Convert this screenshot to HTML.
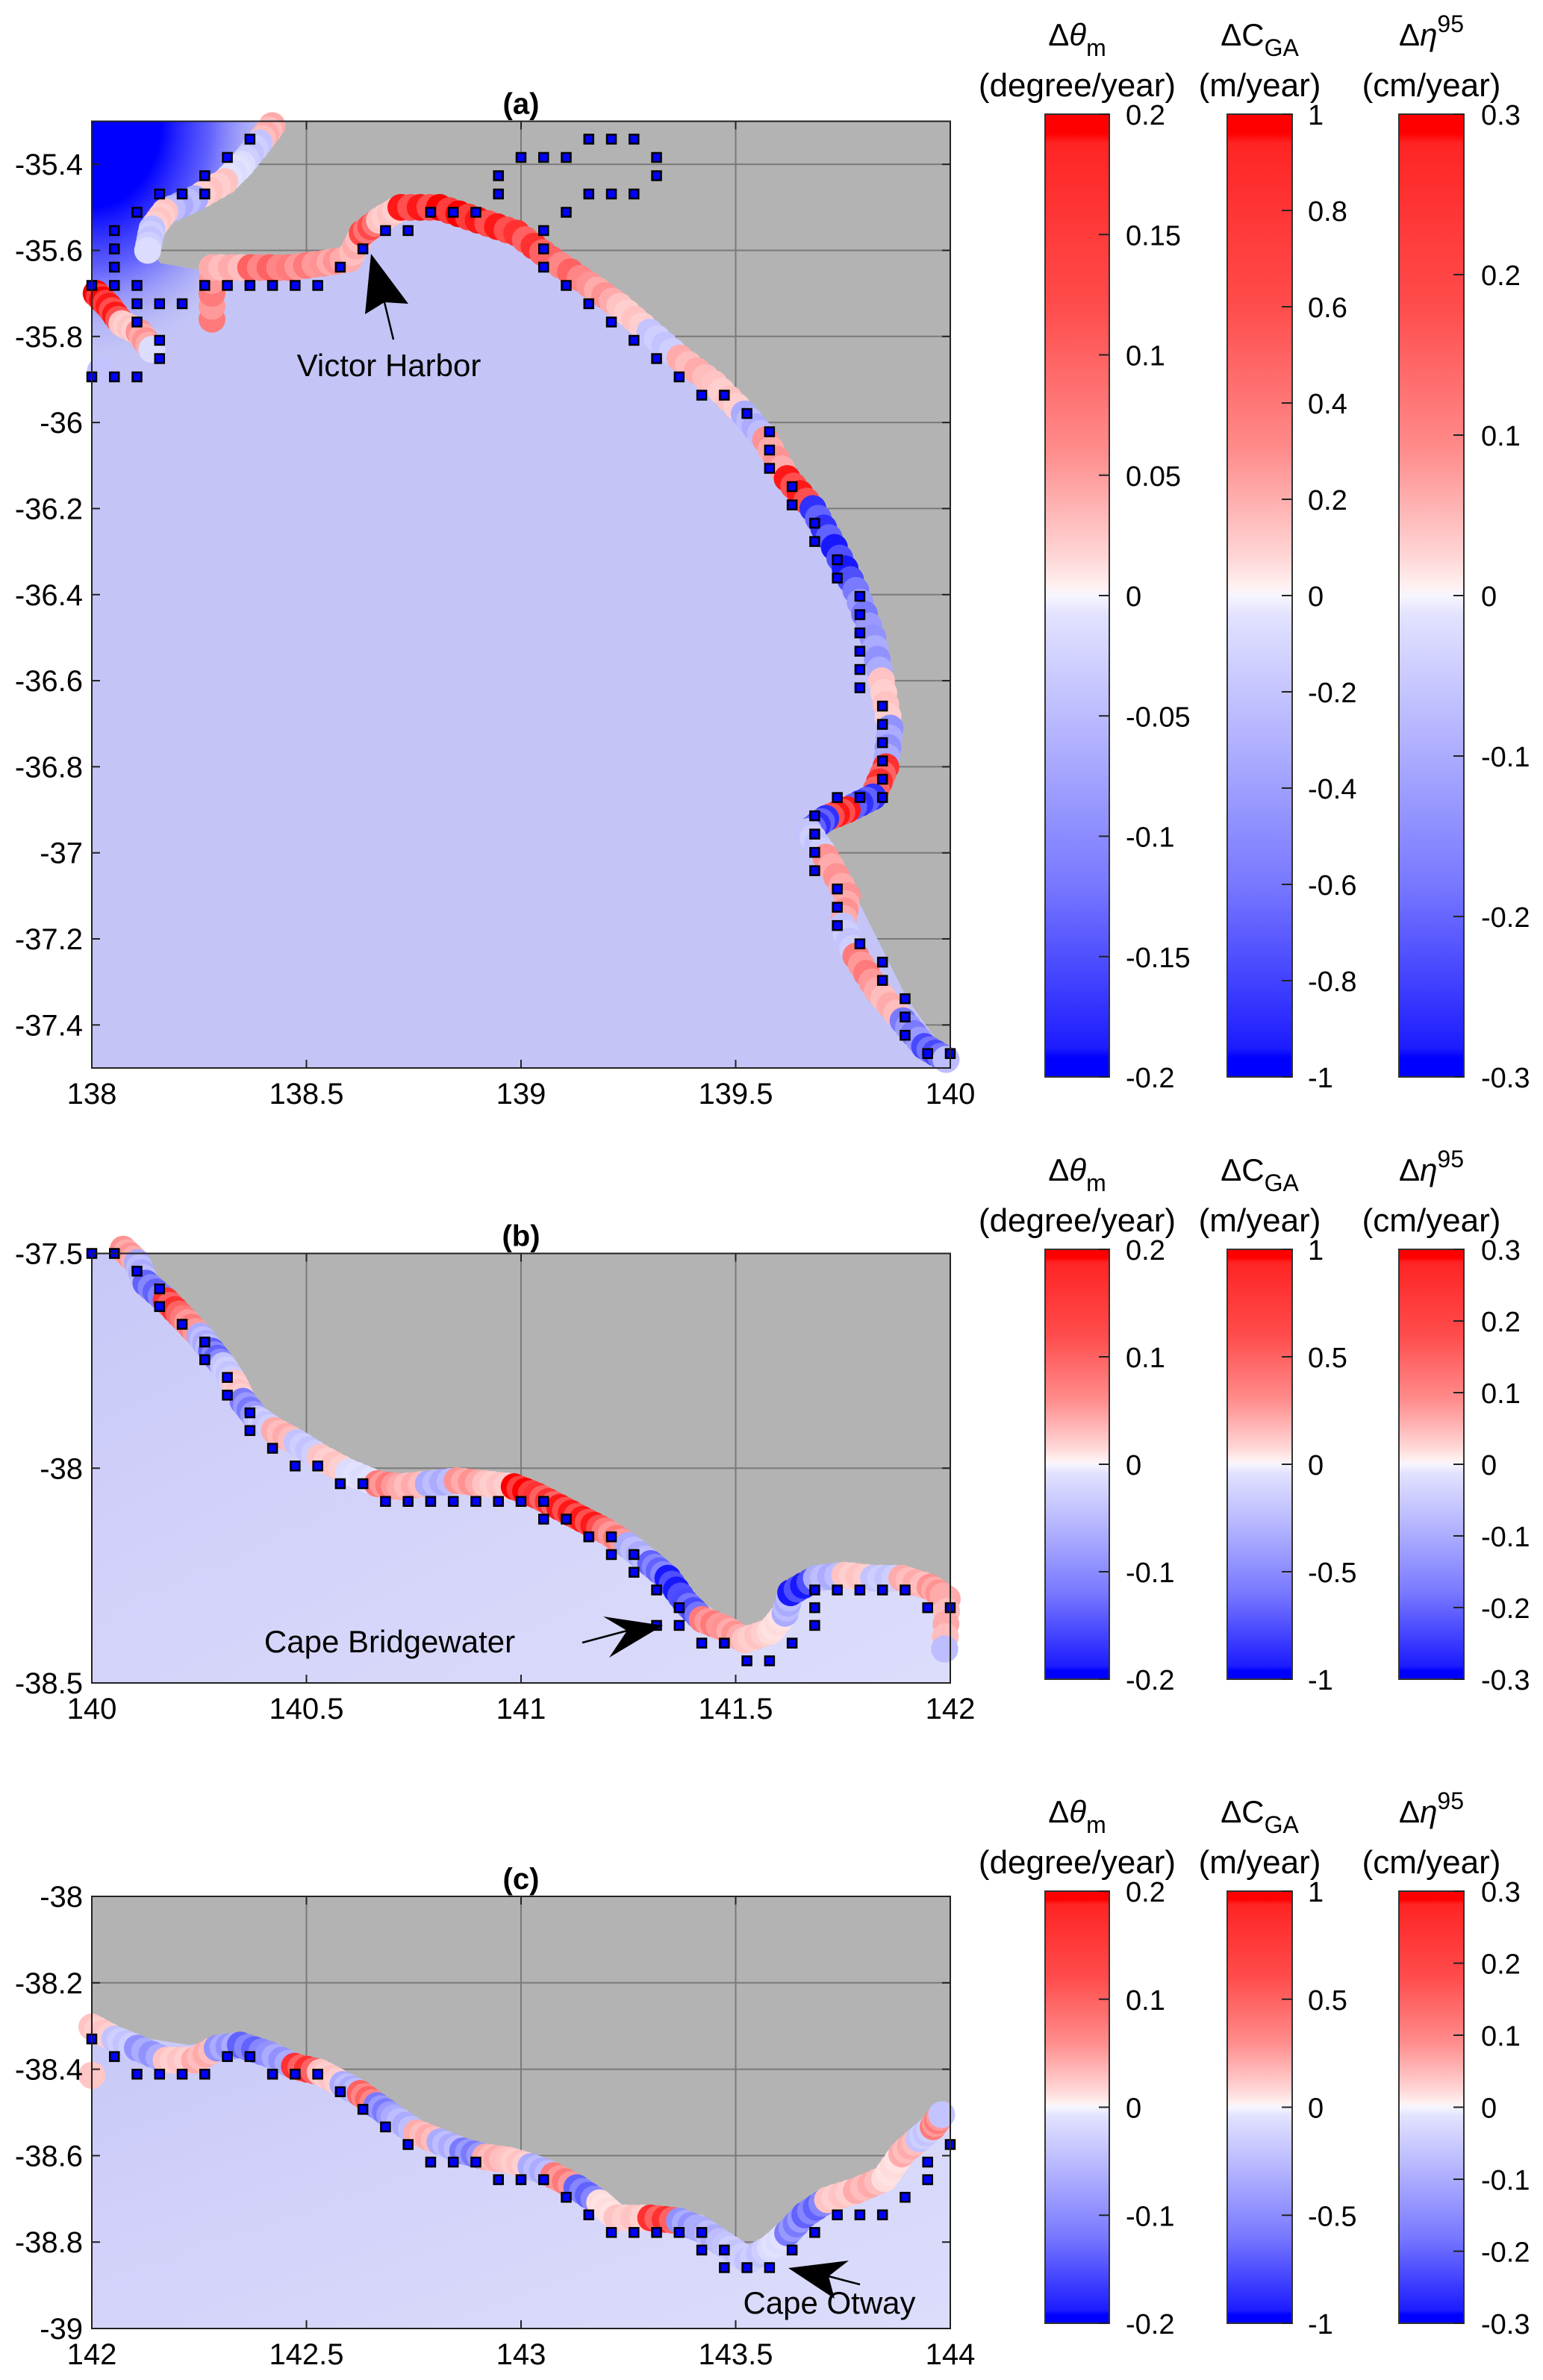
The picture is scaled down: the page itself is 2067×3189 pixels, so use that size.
<!DOCTYPE html>
<html><head><meta charset="utf-8"><style>
html,body{margin:0;padding:0;background:#fff}
svg{display:block}
text{font-family:"Liberation Sans",Arial,sans-serif;fill:#000}
</style></head><body>
<svg id="fig" xmlns="http://www.w3.org/2000/svg" width="2067" height="3189" viewBox="0 0 2067 3189">
<defs>
<linearGradient id="cbgrad" x1="0" y1="0" x2="0" y2="1">
<stop offset="0" stop-color="#ff0000"/><stop offset="0.02" stop-color="#ff0000"/><stop offset="0.03" stop-color="#ff2424"/>
<stop offset="0.2" stop-color="#ff4c4c"/><stop offset="0.35" stop-color="#ff8c8c"/><stop offset="0.46" stop-color="#ffd6d6"/>
<stop offset="0.49" stop-color="#fff0f0"/><stop offset="0.5" stop-color="#f6f6ff"/><stop offset="0.52" stop-color="#e2e2ff"/>
<stop offset="0.65" stop-color="#b2b2ff"/><stop offset="0.8" stop-color="#7878ff"/><stop offset="0.97" stop-color="#1c1cff"/>
<stop offset="0.98" stop-color="#0000ff"/><stop offset="1" stop-color="#0000ff"/>
</linearGradient>
<radialGradient id="gulfgrad" cx="123" cy="162" r="330" gradientUnits="userSpaceOnUse" gradientTransform="translate(123 162) scale(0.8 1) translate(-123 -162)">
<stop offset="0" stop-color="#0000ff" stop-opacity="1"/><stop offset="0.35" stop-color="#0000ff" stop-opacity="1"/>
<stop offset="0.6" stop-color="#4848ff" stop-opacity="0.8"/><stop offset="1" stop-color="#c8c8f8" stop-opacity="0"/>
</radialGradient>
<linearGradient id="oceanB" x1="0" y1="0" x2="1" y2="1">
<stop offset="0" stop-color="#c8c8f8"/><stop offset="0.6" stop-color="#d6d6fa"/><stop offset="1" stop-color="#dcdcfb"/>
</linearGradient>
</defs>
</svg>
<script>
// ---------- DATA ----------
const coastALon=[138.44,138.40,138.31,138.17,138.12,138.16,138.28,138.60,138.65,138.72,138.95,139.20,139.55,139.76,139.87,139.87,139.80,139.66,139.76,139.90,140.00];
const coastALat=[-35.30,-35.35,-35.45,-35.51,-35.58,-35.63,-35.65,-35.64,-35.55,-35.50,-35.55,-35.70,-36.00,-36.36,-36.64,-36.78,-36.87,-36.94,-37.06,-37.34,-37.48];
const markALon=[138.42,138.39,138.35,138.31,138.24,138.17,138.14,138.13,138.01,138.04,138.07,138.11,138.14,138.02,138.28,
138.28,138.37,138.46,138.54,138.60,138.63,138.67,138.72,138.81,138.90,138.99,139.07,139.16,139.23,139.30,139.37,139.45,139.52,139.57,139.62,139.68,139.73,139.78,139.82,139.84,139.86,139.85,139.82,139.76,139.71,139.67,139.71,139.76,139.75,139.78,139.83,139.89,139.94,139.99];
const markALat=[-35.31,-35.35,-35.40,-35.44,-35.48,-35.51,-35.55,-35.60,-35.70,-35.73,-35.77,-35.79,-35.83,-35.88,-35.76,
-35.64,-35.64,-35.64,-35.63,-35.62,-35.56,-35.53,-35.50,-35.50,-35.53,-35.56,-35.62,-35.68,-35.73,-35.79,-35.85,-35.91,-35.98,-36.04,-36.13,-36.20,-36.29,-36.39,-36.50,-36.60,-36.71,-36.80,-36.87,-36.90,-36.92,-36.95,-37.01,-37.10,-37.17,-37.24,-37.32,-37.39,-37.45,-37.48];
const markAVal=[0.3,-0.2,-0.1,0.2,-0.3,0.2,-0.2,-0.1,1,0.9,0.2,0.4,-0.1,-0.2,0.5,
0.3,0.6,0.5,0.4,0.3,0.7,0.2,0.9,1,0.9,0.8,0.6,0.4,0.2,-0.2,0.3,0.2,-0.3,0.4,0.9,-0.8,-0.9,-0.5,-0.4,0.2,-0.4,0.8,-0.8,0.9,-0.8,-0.2,0.4,0.4,-0.2,0.5,0.3,-0.5,-0.7,-0.3];
const sqAI=[7,6,5,5,3,4,2,1,1,1,0,1,2,2,3,4,2,3,3,0,1,2,5,6,7,8,9,10,11,12,13,14,15,16,17,18,18,19,20,21,22,23,24,25,25,24,23,22,21,20,20,20,21,22,23,24,25,26,27,28,29,30,30,30,31,31,32,32,33,33,34,34,34,34,34,34,35,35,35,35,35,35,34,33,32,32,32,32,33,33,33,34,35,35,36,36,36,37,38];
const sqAJ=[0,1,2,3,3,3,4,5,6,7,8,8,8,9,9,9,10,11,12,13,13,13,8,8,8,8,8,8,7,6,5,5,4,4,4,2,3,1,1,1,0,0,0,1,2,3,3,3,4,5,6,7,8,9,10,11,12,13,14,14,15,16,17,18,19,20,21,22,23,24,25,26,27,28,29,30,31,32,33,34,35,36,36,36,37,38,39,40,41,42,43,44,45,46,47,48,49,50,50];

const coastBLon=[140.040,140.120,140.159,140.226,140.292,140.346,140.385,140.465,140.545,140.625,140.704,140.824,140.970,141.063,141.183,141.289,141.369,141.422,141.502,141.542,141.575,141.635,141.741,141.887,142.000];
const coastBLat=[-37.500,-37.507,-37.562,-37.631,-37.720,-37.802,-37.871,-37.919,-37.974,-38.009,-38.019,-38.019,-38.029,-38.050,-38.105,-38.174,-38.242,-38.311,-38.366,-38.393,-38.345,-38.270,-38.235,-38.242,-38.277];
const markBLon=[140.073,140.106,140.126,140.173,140.213,140.252,140.279,140.306,140.332,140.352,140.385,140.425,140.478,140.532,140.598,140.665,140.718,140.784,140.851,140.917,140.984,141.037,141.090,141.143,141.196,141.249,141.302,141.342,141.382,141.422,141.475,141.521,141.581,141.615,141.628,141.688,141.754,141.821,141.887,141.953,141.993,141.987];
const markBLat=[-37.490,-37.521,-37.569,-37.610,-37.651,-37.692,-37.727,-37.761,-37.802,-37.844,-37.885,-37.912,-37.940,-37.974,-38.009,-38.036,-38.043,-38.036,-38.029,-38.036,-38.043,-38.064,-38.091,-38.119,-38.146,-38.180,-38.222,-38.256,-38.311,-38.352,-38.373,-38.400,-38.380,-38.338,-38.290,-38.256,-38.249,-38.256,-38.256,-38.277,-38.304,-38.421];
const markBVal=[0.4,-0.3,-0.6,0.8,0.5,-0.3,-0.6,-0.2,0.2,-0.5,-0.2,0.3,-0.2,0.2,-0.1,0.5,0.3,-0.3,0.4,0.2,1,0.8,0.9,0.9,0.5,-0.3,-0.6,-0.9,-0.7,0.5,0.4,0.2,0.1,-0.3,-0.9,-0.3,0.2,-0.2,0.3,0.4,0.3,-0.3];
const sqBI=[0,1,2,3,3,4,5,5,6,6,7,7,8,9,10,11,12,13,14,15,16,17,18,19,20,20,21,22,23,23,24,24,25,26,26,25,27,28,29,30,31,32,32,32,33,34,35,36,37,38];
const sqBJ=[0,0,1,2,3,4,5,6,7,8,9,10,11,12,12,13,13,14,14,14,14,14,14,14,14,15,15,16,16,17,17,18,19,20,21,21,22,22,23,23,22,21,20,19,19,19,19,19,20,20];

const coastCLon=[142.000,142.093,142.226,142.332,142.425,142.518,142.625,142.704,142.784,142.890,143.023,143.130,143.209,143.316,143.422,143.488,143.528,143.581,143.661,143.767,143.887,143.953,144.000];
const coastCLat=[-38.281,-38.323,-38.344,-38.330,-38.351,-38.386,-38.435,-38.491,-38.540,-38.582,-38.596,-38.667,-38.723,-38.723,-38.737,-38.786,-38.814,-38.793,-38.716,-38.674,-38.618,-38.540,-38.484];
const markCLon=[142.000,142.053,142.106,142.173,142.239,142.292,142.346,142.412,142.472,142.532,142.585,142.625,142.664,142.704,142.757,142.811,142.864,142.917,142.970,143.023,143.076,143.130,143.183,143.223,143.302,143.369,143.422,143.475,143.528,143.581,143.621,143.661,143.714,143.781,143.847,143.887,143.927,143.960,143.980,142.000];
const markCLat=[-38.302,-38.330,-38.351,-38.379,-38.379,-38.351,-38.344,-38.365,-38.393,-38.407,-38.435,-38.456,-38.484,-38.512,-38.547,-38.568,-38.589,-38.603,-38.610,-38.625,-38.646,-38.674,-38.709,-38.744,-38.744,-38.751,-38.772,-38.807,-38.842,-38.814,-38.779,-38.737,-38.702,-38.681,-38.653,-38.596,-38.561,-38.533,-38.505,-38.414];
const markCVal=[0.2,-0.2,-0.4,0.2,0.3,-0.4,-0.6,-0.4,0.8,0.2,-0.3,0.6,-0.5,-0.3,0.3,-0.3,-0.5,0.3,0.2,-0.3,0.5,-0.6,0.1,0.2,0.8,-0.4,-0.3,-0.2,-0.2,-0.1,-0.5,-0.6,0.2,0.3,0.1,0.3,-0.2,0.5,-0.2,0.25];
const sqCI=[0,1,2,3,4,5,6,7,8,9,10,11,12,13,14,15,16,17,18,19,20,21,22,23,24,25,26,27,27,28,28,29,30,31,32,33,34,35,36,37,37,38];
const sqCJ=[0,1,2,2,2,2,1,1,2,2,2,3,4,5,6,7,7,7,8,8,8,9,10,11,11,11,11,11,12,12,13,13,13,12,11,10,10,10,9,8,7,6];

const xTicksA=[138,138.5,139,139.5,140], xLabA=["138","138.5","139","139.5","140"];
const yTicksA=[-35.4,-35.6,-35.8,-36,-36.2,-36.4,-36.6,-36.8,-37,-37.2,-37.4];
const yLabA=["-35.4","-35.6","-35.8","-36","-36.2","-36.4","-36.6","-36.8","-37","-37.2","-37.4"];
const xTicksB=[140,140.5,141,141.5,142], xLabB=["140","140.5","141","141.5","142"];
const yTicksB=[-37.5,-38,-38.5], yLabB=["-37.5","-38","-38.5"];
const xTicksC=[142,142.5,143,143.5,144], xLabC=["142","142.5","143","143.5","144"];
const yTicksC=[-38,-38.2,-38.4,-38.6,-38.8,-39], yLabC=["-38","-38.2","-38.4","-38.6","-38.8","-39"];
const cb1TicksA=[0.2,0.15,0.1,0.05,0,-0.05,-0.1,-0.15,-0.2], cb1LabA=["0.2","0.15","0.1","0.05","0","-0.05","-0.1","-0.15","-0.2"];
const cb2TicksA=[1,0.8,0.6,0.4,0.2,0,-0.2,-0.4,-0.6,-0.8,-1], cb2LabA=["1","0.8","0.6","0.4","0.2","0","-0.2","-0.4","-0.6","-0.8","-1"];
const cb3Ticks=[0.3,0.2,0.1,0,-0.1,-0.2,-0.3], cb3Lab=["0.3","0.2","0.1","0","-0.1","-0.2","-0.3"];
const cb1TicksB=[0.2,0.1,0,-0.1,-0.2], cb1LabB=["0.2","0.1","0","-0.1","-0.2"];
const cb2TicksB=[1,0.5,0,-0.5,-1], cb2LabB=["1","0.5","0","-0.5","-1"];

// ---------- RENDER ----------
const NS="http://www.w3.org/2000/svg";
const svg=document.getElementById('fig');
function mk(tag,attrs,parent){const e=document.createElementNS(NS,tag);for(const k in attrs)e.setAttribute(k,attrs[k]);(parent||svg).appendChild(e);return e;}
function col(v){const t=Math.min(1,Math.abs(v));const c=Math.round(244*(1-t));return v>=0?`rgb(255,${c},${c})`:`rgb(${c},${c},255)`;}

function panel(P){
  const g=mk('g',{});
  
  
  const sx=lon=>P.x0+(lon-P.lon0)/(P.lon1-P.lon0)*(P.x1-P.x0);
  const sy=lat=>P.y0+(P.lat0-lat)/(P.lat0-P.lat1)*(P.y1-P.y0);
  const land=mk('rect',{x:P.x0,y:P.y0,width:P.x1-P.x0,height:P.y1-P.y0,fill:'#b3b3b3'},g);
  
  
  P.xt.forEach(v=>{const l=mk('line',{x1:sx(v),x2:sx(v),y1:P.y0,y2:P.y1,stroke:'#7a7a7a','stroke-width':2},g);});
  P.yt.forEach(v=>{const l=mk('line',{x1:P.x0,x2:P.x1,y1:sy(v),y2:sy(v),stroke:'#7a7a7a','stroke-width':2},g);});
  let pts=[];
  if(P.oceanStart) pts.push([P.x0,P.y0]);
  else pts.push([P.x0,sy(P.cLat[0])]);
  for(let i=0;i<P.cLon.length;i++) pts.push([sx(P.cLon[i]),sy(P.cLat[i])]);
  pts.push([P.x1,P.y1]);pts.push([P.x0,P.y1]);
  const ocean=mk('polygon',{points:pts.map(p=>p.join(',')).join(' '),fill:P.oceanFill},g);
  
  
  if(P.gulf){
    const cp=mk('clipPath',{id:'gulfclip'},g);
    mk('polygon',{points:pts.map(p=>p.join(',')).join(' ')},cp);
    const gr=mk('rect',{x:P.x0,y:P.y0,width:420,height:460,fill:'url(#gulfgrad)','clip-path':'url(#gulfclip)'},g);
    
    
  }
  const mg=mk('g',{},g);
  
  
  for(let i=0;i<P.mLon.length;i++){
    const x=sx(P.mLon[i]),y=sy(P.mLat[i]);
    let nx=x,ny=y;
    if(i+1<P.mLon.length){nx=sx(P.mLon[i+1]);ny=sy(P.mLat[i+1]);}
    const d=Math.hypot(nx-x,ny-y);
    const steps=(d<70)?4:1;
    for(let s=0;s<steps;s++){
      const f=s/steps;
      const c=mk('circle',{cx:x+(nx-x)*f,cy:y+(ny-y)*f,r:P.r,fill:col(P.mVal[i]*(s%2?0.75:1))},mg);
      
      
    }
  }
  P.sqI.forEach((ii,k)=>{
    const lon=P.gLon0+ii*P.gdLon, lat=P.gLat0-P.sqJ[k]*P.gdLat;
    const s=mk('rect',{x:sx(lon)-6,y:sy(lat)-6,width:12,height:12,fill:'#0000ff',stroke:'#000','stroke-width':2.5},g);
    
    
  });
  const fr=mk('rect',{x:P.x0,y:P.y0,width:P.x1-P.x0,height:P.y1-P.y0,fill:'none',stroke:'#222','stroke-width':2},g);
  
  
  P.xt.forEach((v,k)=>{
    mk('line',{x1:sx(v),x2:sx(v),y1:P.y1,y2:P.y1-11,stroke:'#222','stroke-width':2},g);
    mk('line',{x1:sx(v),x2:sx(v),y1:P.y0,y2:P.y0+11,stroke:'#222','stroke-width':2},g);
    const t=mk('text',{x:sx(v),y:P.y1+48,'font-size':40,'text-anchor':'middle'},g);
    t.textContent=P.xl[k];
    
    
  });
  P.yt.forEach((v,k)=>{
    mk('line',{x1:P.x0,x2:P.x0+11,y1:sy(v),y2:sy(v),stroke:'#222','stroke-width':2},g);
    mk('line',{x1:P.x1,x2:P.x1-11,y1:sy(v),y2:sy(v),stroke:'#222','stroke-width':2},g);
    const t=mk('text',{x:P.x0-12,y:sy(v)+14,'font-size':40,'text-anchor':'end'},g);
    t.textContent=P.yl[k];
    
    
  });
  const tt=mk('text',{x:(P.x0+P.x1)/2,y:P.y0-10,'font-size':40,'font-weight':'bold','text-anchor':'middle'},g);
  tt.textContent=P.title;
  
  
  const A=P.arrow;
  const ar=mk('polygon',{points:`${A.tip[0]},${A.tip[1]} ${A.b1[0]},${A.b1[1]} ${A.mid[0]},${A.mid[1]} ${A.b2[0]},${A.b2[1]}`,fill:'#000'},g);
  
  
  mk('line',{x1:A.mid[0],y1:A.mid[1],x2:A.tail[0],y2:A.tail[1],stroke:'#000','stroke-width':2.5},g);
  const at=mk('text',{x:A.tx,y:A.ty,'font-size':42,'text-anchor':'middle'},g);
  at.textContent=A.label;
  
  
}

function colorbar(cx0,cx1,y0,y1,ticks,labs,vmin,vmax,titleMain,sub,sup,unit,lx){
  const g=mk('g',{});
  
  
  const r=mk('rect',{x:cx0,y:y0,width:cx1-cx0,height:y1-y0,fill:'url(#cbgrad)',stroke:'#333','stroke-width':2},g);
  
  
  const sy=v=>y0+(vmax-v)/(vmax-vmin)*(y1-y0);
  ticks.forEach((v,k)=>{
    mk('line',{x1:cx1,x2:cx1-14,y1:sy(v),y2:sy(v),stroke:'#222','stroke-width':2},g);
    const t=mk('text',{x:lx,y:sy(v)+14,'font-size':38},g);
    t.textContent=labs[k];
    
    
  });
  const c=(cx0+cx1)/2;
  const t1=mk('text',{x:c,y:y0-92,'font-size':42,'text-anchor':'middle'},g);
  
  
  t1.innerHTML=titleMain+(sub?`<tspan dy="14" font-size="32">${sub}</tspan>`:'')+(sup?`<tspan dy="-18" font-size="32">${sup}</tspan>`:'');
  const t2=mk('text',{x:c,y:y0-24,'font-size':44,'text-anchor':'middle'},g);
  t2.textContent=unit;
  
  
}

panel({name:'panel-a',x0:123,x1:1273,y0:162.5,y1:1431,lon0:138,lon1:140,lat0:-35.3,lat1:-37.5,
  cLon:coastALon,cLat:coastALat,oceanStart:true,oceanFill:'#c4c5f6',gulf:true,
  mLon:markALon,mLat:markALat,mVal:markAVal,r:18,
  sqI:sqAI,sqJ:sqAJ,gLon0:138,gdLon:0.05263,gLat0:-35.3415,gdLat:0.0425,
  xt:xTicksA,xl:xLabA,yt:yTicksA,yl:yLabA,title:'(a)',
  arrow:{tip:[497,340],b1:[489,421],mid:[515,405],b2:[547,407],tail:[527,455],tx:521,ty:504,label:'Victor Harbor'}});
panel({name:'panel-b',x0:123,x1:1273,y0:1679.5,y1:2255,lon0:140,lon1:142,lat0:-37.5,lat1:-38.5,
  cLon:coastBLon,cLat:coastBLat,oceanStart:true,oceanFill:'url(#oceanB)',gulf:false,
  mLon:markBLon,mLat:markBLat,mVal:markBVal,r:18,
  sqI:sqBI,sqJ:sqBJ,gLon0:140,gdLon:0.05263,gLat0:-37.5,gdLat:0.04124,
  xt:xTicksB,xl:xLabB,yt:yTicksB,yl:yLabB,title:'(b)',
  arrow:{tip:[888,2178],b1:[808,2166],mid:[840,2185],b2:[816,2221],tail:[780,2201],tx:522,ty:2214,label:'Cape Bridgewater'}});
panel({name:'panel-c',x0:123,x1:1273,y0:2541,y1:3120,lon0:142,lon1:144,lat0:-38,lat1:-39,
  cLon:coastCLon,cLat:coastCLat,oceanStart:false,oceanFill:'url(#oceanB)',gulf:false,
  mLon:markCLon,mLat:markCLat,mVal:markCVal,r:18,
  sqI:sqCI,sqJ:sqCJ,gLon0:142,gdLon:0.05263,gLat0:-38.33,gdLat:0.0407,
  xt:xTicksC,xl:xLabC,yt:yTicksC,yl:yLabC,title:'(c)',
  arrow:{tip:[1056,3039],b1:[1137,3029],mid:[1110,3050],b2:[1118,3080],tail:[1152,3061],tx:1111,ty:3100,label:'Cape Otway'}});

const theta='Δ<tspan font-style="italic">θ</tspan>', eta='Δ<tspan font-style="italic">η</tspan>';
[[153,1443,true],[1674,2250,false],[2534,3113,false]].forEach(([y0,y1,isA])=>{
  colorbar(1400,1486,y0,y1,isA?cb1TicksA:cb1TicksB,isA?cb1LabA:cb1LabB,-0.2,0.2,theta,'m',null,'(degree/year)',1508);
  colorbar(1644,1731,y0,y1,isA?cb2TicksA:cb2TicksB,isA?cb2LabA:cb2LabB,-1,1,'ΔC','GA',null,'(m/year)',1752);
  colorbar(1874,1961,y0,y1,cb3Ticks,cb3Lab,-0.3,0.3,eta,null,'95','(cm/year)',1984);
});
</script>
</body></html>
